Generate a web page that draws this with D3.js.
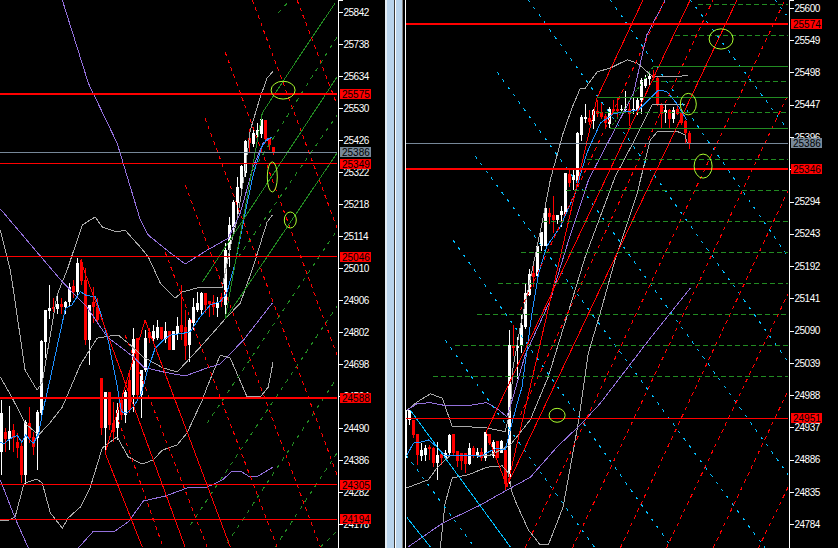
<!DOCTYPE html>
<html>
<head>
<meta charset="utf-8">
<title>chart</title>
<script src="https://cdn.jsdelivr.net/npm/d3@7"></script>
<style>
    html, body { margin: 0; padding: 0; background: #000; overflow: hidden; }
    svg { display: block; }
    .axis text { fill: #fff; font: 10px "Liberation Sans", sans-serif; letter-spacing: -0.5px; }
    .axis line, .axis path { stroke: #fff; shape-rendering: crispEdges; }
    .box text { fill: #000; font: 10px "Liberation Sans", sans-serif; }
    path.ln, line.ln { fill: none; shape-rendering: crispEdges; }
</style>
</head>
<body>
<svg id="chart" width="838" height="548"></svg>
<script>
// ---- left window ----
const leftOpen = [24413,24478,24454,24483,24445,24432,24337,24507,24462,24458,24538,24768,24870,24884,24877,24892,24883,24898,24952,24931,25028,24971,24776,24898,24884,24652,24491,24608,24505,24491,24581,24532,24646,24597,24781,24597,24679,24803,24779,24781,24819,24778,24806,24744,24796,24825,24819,24760,24830,24874,24874,24928,24904,24901,24881,24917,24890,25069,25144,25220,25269,25318,25431,25412,25442,25446,25491,25428,25402];
const leftHigh = [24581,24489,24561,24502,24473,24451,24516,24557,24478,24548,24776,24873,24955,24913,24920,24911,24903,24960,24971,25041,25039,25009,24890,24947,24911,24652,24608,24608,24576,24570,24581,24614,24668,24814,24781,24679,24809,24814,24825,24841,24819,24836,24806,24806,24852,24955,24874,24846,24911,24933,24933,24928,24904,24922,24917,24928,25090,25177,25231,25307,25345,25426,25461,25464,25480,25496,25491,25431,25404];
const leftLow = [24337,24413,24418,24413,24391,24310,24305,24440,24402,24353,24521,24716,24844,24868,24862,24862,24862,24884,24911,24911,24955,24760,24695,24830,24830,24467,24410,24484,24446,24451,24516,24505,24538,24543,24581,24524,24673,24765,24765,24776,24776,24765,24744,24744,24776,24776,24711,24706,24809,24868,24857,24863,24850,24857,24852,24884,24847,25014,25123,25177,25253,25307,25383,25404,25431,25431,25415,25394,25377];
const leftClose = [24538,24454,24480,24458,24426,24337,24510,24458,24429,24541,24773,24873,24879,24877,24892,24883,24898,24949,24931,25025,24968,24776,24890,24884,24841,24491,24608,24500,24478,24549,24532,24608,24549,24779,24597,24679,24781,24781,24806,24819,24779,24806,24744,24806,24822,24803,24757,24841,24882,24897,24928,24890,24893,24884,24901,24901,25069,25150,25226,25274,25342,25424,25415,25448,25459,25493,25428,25410,25383];

const leftTicks = [25842,25738,25634,25530,25426,25322,25218,25114,25010,24906,24802,24698,24594,24490,24386,24282,24178];
const leftHeavyLevels = [25575,24588];
const leftThinLevels = [25349,25046,24305,24194];
const leftGreyLevels = [25386];

const leftBlue = [[-0.3,24442],[0.7,24440],[1.75,24451],[3,24462],[4,24465],[5.1,24443],[6,24467],[8,24440],[9.3,24473],[10.3,24543],[12.2,24651],[14.25,24776],[16,24879],[17.6,24890],[19.7,24933],[21.3,24920],[23.4,24917],[24.7,24868],[26.75,24770],[28.8,24635],[30,24543],[31.3,24538],[33,24559],[35,24603],[36.3,24668],[38.4,24749],[40.5,24776],[42.2,24792],[45.5,24798],[47.2,24803],[49.7,24852],[52.2,24890],[54.7,24901],[56.3,24928],[58.4,25025],[60.9,25188],[63,25318],[65.1,25404],[66.3,25428],[67.6,25435]];
const leftPurple = [
    [[15.2,25881],[21.7,25611],[28.9,25416],[34.7,25166],[36.7,25117],[42.2,25059],[45.9,25023],[51.4,25068],[56.7,25107],[59.7,25189],[62.9,25338],[65.4,25416],[67.7,25436]],
    [[-0.3,25202],[12.7,25003],[15.5,24961],[21.4,24883],[26.4,24786],[33,24721],[35.5,24688],[40.5,24672],[45.9,24659],[51.4,24685],[54.7,24698],[60.5,24776],[67.7,24896]],
    [[-0.3,24321],[3.4,24197],[6.7,24100]],
    [[19.2,24100],[23,24155],[28,24152],[31.7,24185],[35.5,24253],[41,24269],[46.4,24295],[51.4,24298],[55.2,24321],[57.7,24350],[59.7,24350],[61.7,24334],[64.2,24334],[67.9,24363]]
];
const leftGrey = [
    [[-0.3,25133],[2.2,25003],[2.9,24945],[5.9,24678],[8.9,24613],[10.2,24639],[13.9,24922],[16.4,25003],[20.2,25150],[23.4,25176],[25.2,25143],[28.9,25127],[30.9,25133],[34.7,25078],[36.7,25046],[39.7,24961],[43.4,24912],[45.2,24932],[49.7,24948],[55.2,24948],[57.2,25078],[58.9,25166],[60.9,25328],[62.2,25458],[64.7,25566],[66.4,25627],[67.9,25650]],
    [[-0.3,24656],[2.7,24587],[5.9,24506],[9.2,24467],[11.7,24500],[15.2,24558],[19.7,24695],[23.9,24782],[27.2,24789],[29.2,24792],[32.2,24760],[35.4,24721],[40.4,24685],[43.9,24672],[49.7,24753],[55.9,24844],[59.7,24896],[62.9,25013],[66.4,25159],[67.7,25182]],
    [[-0.3,24191],[1.4,24188],[3.4,24201],[5.4,24298],[5.9,24311],[8.9,24324],[10.2,24311],[12.2,24214],[15.2,24165],[16.7,24198],[19.7,24233],[22.2,24298],[25.2,24425],[28.9,24461],[31.7,24396],[35.2,24373],[37.9,24386],[40.2,24418],[43.9,24435],[46.4,24474],[50.2,24581],[51.4,24623],[54.7,24727],[57.2,24717],[61.4,24591],[64.7,24591],[66.7,24623],[67.9,24705]]
];
const leftRedSolid = [
    [[19.7,25036],[45.9,24103]],
    [[25.9,24409],[35.9,24841],[57.2,24103]],
    [[25.9,24409],[35.2,24103]]
];
const leftRedDash = [
    [[73.9,25881],[83.9,25540]],
    [[62.7,25881],[83.9,25140]],
    [[55.9,25712],[83.9,24727]],
    [[50.9,25497],[83.9,24337]],
    [[45.9,25280],[79.7,24103]],
    [[40.9,25062],[68.9,24103]],
    [[30.9,24792],[51.4,24103]],
    [[29.2,24516],[40.4,24103]]
];
const leftGreenSolid = [
    [[55.9,24844],[65.2,25514],[74.2,25692],[83.4,25871]],
    [[50.2,24964],[83.9,25631]],
    [[55.9,24844],[83.9,25384]]
];
const leftGreenDash = [
    [[69.2,25839],[72.2,25881]],
    [[62.9,25328],[84.2,25767]],
    [[59.2,25046],[83.9,25507]],
    [[51.4,24506],[83.9,25133]],
    [[47.2,24175],[83.9,24886]],
    [[56.4,24116],[84.2,24659]],
    [[68.4,24103],[83.9,24409]],
    [[79.7,24103],[83.7,24152]]
];
const leftEllipses = [[70.4,25588,3,29],[67.7,25306,1.25,49],[72.2,25166,1.5,26]];

// ---- right window ----
const rightOpen = [24888,24948,24948,24926,24892,24893,24906,24904,24881,24895,24889,24896,24926,24900,24897,24897,24879,24905,24891,24898,24888,24927,24891,24916,24897,24901,24859,25066,25062,25066,25096,25146,25181,25176,25223,25223,25276,25273,25264,25273,25275,25337,25328,25323,25399,25424,25426,25422,25437,25435,25429,25417,25440,25440,25438,25438,25441,25438,25439,25454,25477,25488,25494,25490,25447,25434,25439,25424,25440,25434,25422,25403];
const rightHigh = [24966,24964,24948,24926,24912,24909,24909,24906,24914,24895,24901,24927,24926,24900,24897,24897,24912,24907,24905,24904,24929,24927,24917,24916,24917,24904,25091,25099,25080,25115,25165,25188,25196,25230,25246,25283,25283,25302,25273,25287,25339,25344,25344,25404,25431,25448,25439,25441,25454,25449,25433,25443,25454,25460,25447,25468,25449,25457,25457,25489,25494,25498,25502,25491,25449,25447,25440,25444,25447,25439,25423,25405];
const rightLow = [24880,24940,24920,24877,24883,24883,24885,24875,24853,24877,24885,24893,24893,24875,24870,24865,24877,24888,24888,24884,24883,24909,24888,24889,24896,24838,24848,25049,25014,25054,25093,25144,25159,25175,25215,25223,25259,25244,25259,25254,25273,25317,25312,25317,25389,25418,25415,25408,25428,25425,25410,25410,25433,25425,25436,25436,25413,25433,25431,25433,25474,25477,25486,25445,25410,25418,25410,25418,25431,25415,25387,25377];
const rightClose = [24964,24964,24925,24893,24901,24904,24902,24881,24893,24888,24896,24925,24896,24884,24884,24879,24904,24891,24898,24889,24929,24912,24913,24889,24916,24848,25067,25063,25066,25098,25149,25179,25174,25223,25246,25283,25270,25264,25273,25279,25339,25323,25336,25403,25427,25427,25419,25439,25432,25427,25418,25440,25437,25437,25441,25441,25433,25441,25455,25486,25490,25492,25489,25447,25433,25439,25424,25439,25433,25418,25402,25386];

const rightTicks = [25600,25549,25498,25447,25396,25345,25294,25243,25192,25141,25090,25039,24988,24937,24886,24835,24784];
const rightHeavyLevels = [25574,25346];
const rightThinLevels = [24951];
const rightGreyLevels = [25386];

const rightBlue = [[0.33,24893],[2,24912],[4.1,24914],[5.75,24917],[8.25,24904],[9.9,24893],[12.4,24893],[16.2,24893],[18.7,24891],[20.75,24898],[22.8,24904],[24.9,24901],[26.2,24933],[27.8,24972],[29.1,25000],[31.6,25117],[33.25,25180],[35.3,25223],[38.7,25254],[42.4,25307],[45.3,25370],[48.7,25418],[52,25433],[55.3,25436],[58.25,25439],[61.2,25457],[63.25,25470],[65.3,25468],[67.8,25449],[70.3,25423]];
const rightPurple = [
    [[0.33,24964],[2.8,24974],[6.2,24976],[10.3,24971],[15.3,24971],[20.3,24976],[22.8,24967],[25.3,24954],[26.2,24970],[29.9,25051],[36.2,25138],[40.3,25223],[45.75,25328],[57,25465],[60.3,25557],[64.9,25612]],
    [[0.67,24748],[9.4,24786],[18.7,24814],[25.4,24838],[31.2,24858],[37.9,24906],[43.7,24941],[48.7,24975],[61.2,25078],[71.2,25157]]
];
const rightGrey = [
    [[0.4,24964],[2.9,24977],[6.2,24990],[9.2,24983],[11.7,24938],[15.4,24938],[20.4,24936],[24.9,24930],[26.2,24964],[26.9,25032],[28.7,25096],[34.2,25262],[36.2,25328],[39.4,25402],[41.7,25443],[43.7,25473],[44.9,25473],[47.9,25499],[51.2,25505],[55.4,25518],[57.9,25513],[61.9,25491],[67.9,25491],[70.7,25494]],
    [[0.2,24841],[5.7,24854],[7.9,24873],[11.2,24893],[21.2,24893],[26.2,24909],[31.2,24949],[35.7,25017],[42.4,25154],[44.9,25206],[52.4,25333],[56.9,25387],[61.7,25447],[62.9,25448],[69.9,25448]],
    [[8.7,24746],[9.9,24817],[11.7,24857],[15.7,24862],[20.4,24874],[24.2,24876],[25.7,24865],[26.7,24833],[27.9,24814],[30.7,24775],[33.7,24751],[35.7,24751],[39.4,24811],[43.2,24944],[45.7,25054],[48.7,25118],[52.4,25202],[57.9,25307],[61.2,25391],[62.9,25404],[67.9,25405],[69.9,25399],[70.4,25387]]
];
const rightRedSolid = [
    [[20.2,24930],[25.4,24843],[47.9,25458],[59.4,25613]],
    [[20.2,24930],[71.2,25613]],
    [[25.7,24849],[82.9,25613]]
];
const rightRedDash = [
    [[28.7,25122],[64.9,25613]],
    [[28.7,24956],[76.9,25613]],
    [[29.9,24746],[94.9,25613]],
    [[41.7,24746],[95.7,25464]],
    [[53.7,24746],[95.7,25312]],
    [[65.2,24746],[95.7,25149]],
    [[76.9,24746],[95.7,24996]],
    [[88.2,24746],[95.7,24843]]
];
const rightCyanSolid = [
    [[1.2,24964],[26.2,24748]],
    [[0.4,24794],[6.2,24748]]
];
const rightCyanDash = [
    [[92.4,25613],[95.2,25589]],
    [[71.2,25613],[95.4,25409]],
    [[30.7,25613],[95.4,25043]],
    [[51.2,25613],[95.4,25209]],
    [[22.9,25499],[95.7,24862]],
    [[17.4,25366],[89.9,24746]],
    [[11.9,25233],[66.7,24746]],
    [[0.2,24893],[17.4,24746]],
    [[9.9,25075],[47.4,24746]]
];
const rightChannel = [[51.2,25410],[61.9,25507]];
const rightChannelPrices = [25507,25459,25410];
const rightChannelStarts = [61.9,47.9,51.2];
const rightGridPrices = [25606,25557,25483,25434,25361,25312,25263,25214,25165,25116,25067,25018];
const rightGridStarts = [73.2,67.4,61.9,47.9,45.4,40.2,34.4,28.9,23.2,17.9,12.4,6.9];
const rightEllipses = [[78.9,25551,3,16],[70.7,25448,2,17],[74.4,25350,2.25,19],[37.9,24956,2,11]];

const RED = '#ff0000', GREEN = '#228b22', BLUE = '#1e90ff', CYAN = '#00bfff';
const PURPLE = '#9370db', GREY = '#aaaaaa', SLATE = '#778899', LIME = '#adff2f';

const svg = d3.select('#chart');
svg.append('rect').attr('width', 838).attr('height', 548).attr('fill', '#000');

function drawPanel(cfg) {
    const x = d3.scaleLinear().domain([0, 1]).range([cfg.firstBar, cfg.firstBar + 4]);
    const y = d3.scaleLinear().domain(cfg.prices).range([0, 548]);
    const clipId = 'clip' + cfg.name;
    // snap to a pixel row so that one pixel lines stay one pixel
    const rowY = v => Math.floor(y(v)) + 0.5;

    svg.append('clipPath').attr('id', clipId).append('rect')
        .attr('x', cfg.left).attr('y', 0).attr('width', cfg.right - cfg.left).attr('height', 548);
    const g = svg.append('g').attr('clip-path', `url(#${clipId})`);

    // candles
    const bars = d3.range(cfg.open.length);
    const isUp = i => cfg.close[i] >= cfg.open[i];
    const barColor = i => isUp(i) ? '#fff' : RED;
    g.selectAll('.wick').data(bars).join('rect').attr('class', 'wick')
        .attr('x', i => Math.floor(x(i)))
        .attr('y', i => y(cfg.high[i]))
        .attr('width', 1)
        .attr('height', i => y(cfg.low[i]) - y(cfg.high[i]))
        .attr('fill', barColor)
        .attr('shape-rendering', 'crispEdges');
    g.selectAll('.body').data(bars).join('rect').attr('class', 'body')
        .attr('x', i => Math.floor(x(i)) - 1)
        .attr('y', i => y(Math.max(cfg.open[i], cfg.close[i])))
        .attr('width', 3)
        .attr('height', i => Math.max(1, Math.abs(y(cfg.open[i]) - y(cfg.close[i]))))
        .attr('fill', barColor)
        .attr('shape-rendering', 'crispEdges');

    const line = d3.line().x(d => x(d[0])).y(d => y(d[1]));
    const trace = (sets, color, dash) => g.append('g').selectAll('path').data(sets).join('path')
        .attr('class', 'ln')
        .attr('d', line)
        .attr('stroke', color)
        .attr('stroke-dasharray', dash || null);

    // moving averages and bands
    trace(cfg.grey, GREY);
    trace(cfg.purple, PURPLE);
    trace([cfg.blue], BLUE);

    // hand drawn fans
    trace(cfg.greenSolid || [], GREEN);
    trace(cfg.greenDash || [], GREEN, '4 5');
    trace(cfg.cyanSolid || [], CYAN);
    trace(cfg.cyanDash || [], CYAN, '3 6');
    trace(cfg.redSolid, RED);
    trace(cfg.redDash, RED, '4 4');

    // horizontal channel on the right window
    if (cfg.gridPrices) {
        g.append('g').selectAll('line').data(cfg.gridPrices).join('line')
            .attr('class', 'ln')
            .attr('x1', (d, i) => x(cfg.gridStarts[i])).attr('x2', cfg.right)
            .attr('y1', d => rowY(d)).attr('y2', d => rowY(d))
            .attr('stroke', GREEN).attr('stroke-dasharray', '5 3');
        g.append('g').selectAll('line').data(cfg.channelPrices).join('line')
            .attr('class', 'ln')
            .attr('x1', (d, i) => x(cfg.channelStarts[i])).attr('x2', cfg.right)
            .attr('y1', d => rowY(d)).attr('y2', d => rowY(d))
            .attr('stroke', GREEN).attr('stroke-width', 1);
        trace([cfg.channel], GREEN, '2 2');
    }

    // levels
    const levels = (vals, color, width, pos) => g.append('g').selectAll('line').data(vals).join('line')
        .attr('class', 'ln')
        .attr('x1', cfg.left).attr('x2', cfg.right)
        .attr('y1', pos).attr('y2', pos)
        .attr('stroke', color).attr('stroke-width', width);
    levels(cfg.greyLevels, SLATE, 1, rowY);
    levels(cfg.thinLevels, RED, 1, rowY);
    levels(cfg.heavyLevels, RED, 2, d => Math.round(y(d)));

    // ellipses
    g.append('g').selectAll('ellipse').data(cfg.ellipses).join('ellipse')
        .attr('cx', d => x(d[0]))
        .attr('cy', d => y(d[1]))
        .attr('rx', d => x(d[2]) - x(0))
        .attr('ry', d => y(0) - y(d[3]))
        .attr('fill', 'none')
        .attr('stroke', LIME);

    // price axis
    const axis = d3.axisRight(y)
        .tickValues(cfg.ticks)
        .tickSize(5)
        .tickPadding(1)
        .tickFormat(d3.format('d'));
    svg.append('g').attr('class', 'axis')
        .attr('transform', `translate(${cfg.right + 0.5},0)`)
        .call(axis);

    // price labels
    const boxes = [...cfg.heavyLevels, ...cfg.thinLevels].map(v => [v, RED])
        .concat(cfg.greyLevels.map(v => [v, SLATE]));
    const box = svg.append('g').attr('class', 'box').selectAll('g').data(boxes).join('g')
        .attr('transform', d => `translate(${cfg.right + 3},${Math.round(y(d[0]))})`);
    box.append('rect').attr('x', 0).attr('y', -5).attr('width', 31).attr('height', 10)
        .attr('fill', d => d[1]);
    box.append('text').attr('x', 2).attr('y', 4).text(d => d[0]);
}

drawPanel({
    name: 'Left', left: 0, right: 337, firstBar: 1.5, prices: [25881, 24100],
    open: leftOpen, high: leftHigh, low: leftLow, close: leftClose,
    ticks: leftTicks, heavyLevels: leftHeavyLevels, thinLevels: leftThinLevels, greyLevels: leftGreyLevels,
    blue: leftBlue, purple: leftPurple, grey: leftGrey,
    redSolid: leftRedSolid, redDash: leftRedDash, greenSolid: leftGreenSolid, greenDash: leftGreenDash,
    ellipses: leftEllipses
});

drawPanel({
    name: 'Right', left: 406, right: 788, firstBar: 405.5, prices: [25612.6, 24746.2],
    open: rightOpen, high: rightHigh, low: rightLow, close: rightClose,
    ticks: rightTicks, heavyLevels: rightHeavyLevels, thinLevels: rightThinLevels, greyLevels: rightGreyLevels,
    blue: rightBlue, purple: rightPurple, grey: rightGrey,
    redSolid: rightRedSolid, redDash: rightRedDash, cyanSolid: rightCyanSolid, cyanDash: rightCyanDash,
    channel: rightChannel, channelPrices: rightChannelPrices, channelStarts: rightChannelStarts,
    gridPrices: rightGridPrices, gridStarts: rightGridStarts,
    ellipses: rightEllipses
});

// window splitter between the two charts
const splitter = [[385, 2, '#e4edf5'], [387, 7, '#b9d4ec'], [394, 1, '#3a3a3a'], [395, 1, '#ffffff'], [396, 6, '#b9d4ec'], [402, 1, '#808080'], [405, 1, '#ffffff']];
svg.append('g').selectAll('rect').data(splitter).join('rect')
    .attr('x', d => d[0]).attr('y', 0).attr('width', d => d[1]).attr('height', 548).attr('fill', d => d[2]);
</script>
</body>
</html>
